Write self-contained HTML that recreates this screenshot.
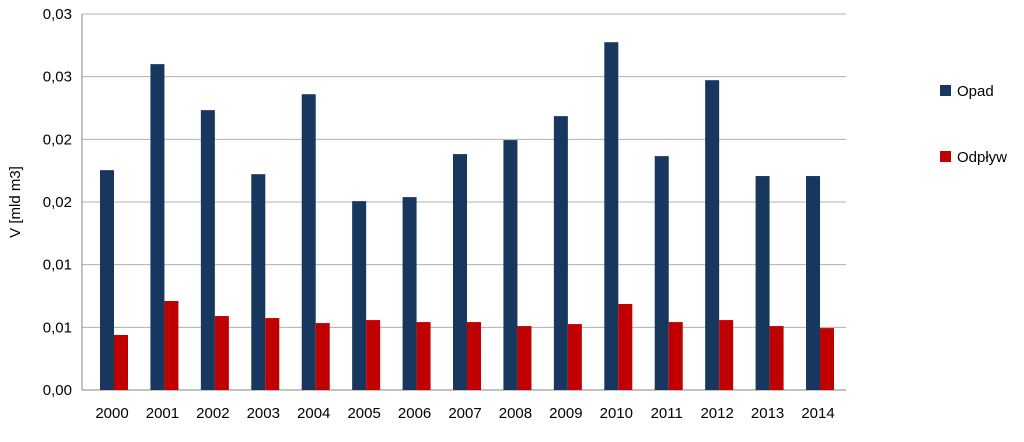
<!DOCTYPE html>
<html><head><meta charset="utf-8">
<style>
body{margin:0;background:#fff;font-family:"Liberation Sans",sans-serif;}
svg text{font-family:"Liberation Sans",sans-serif;fill:#000;}
</style></head>
<body>
<svg width="1024" height="437" viewBox="0 0 1024 437" xmlns="http://www.w3.org/2000/svg">
<g id="grid"></g>
<g id="bars"></g>
<g id="xlabels"></g>
<g id="ylabels"></g>
<text x="20" y="202" font-size="15" text-anchor="middle" transform="rotate(-90 20 202)">V [mld m3]</text>
<g>
<rect x="940" y="85" width="11" height="11" fill="#17375e"/>
<text x="957" y="96" font-size="15">Opad</text>
<rect x="940" y="151" width="11" height="11" fill="#c00000"/>
<text x="957" y="162" font-size="15">Odpływ</text>
</g>
</svg>
<script>
const categories=["2000","2001","2002","2003","2004","2005","2006","2007","2008","2009","2010","2011","2012","2013","2014"];
const opad=[0.01754,0.0260,0.02233,0.01722,0.0236,0.01507,0.01539,0.01882,0.01994,0.02185,0.02775,0.01866,0.02472,0.01707,0.01707];
const odplyw=[0.00439,0.0071,0.0059,0.00574,0.00534,0.00558,0.00542,0.00542,0.0051,0.00526,0.00686,0.00542,0.00558,0.0051,0.00494];
const yTicks=[0,0.005,0.01,0.015,0.02,0.025,0.03];
const yTickLabels=["0,00","0,01","0,01","0,02","0,02","0,03","0,03"];
const NS="http://www.w3.org/2000/svg";
const x0=82,x1=846,y0=390,yTop=14,yMax=0.03;
const y=v=>y0-(v/yMax)*(y0-yTop);
const c0=114,step=50.43;
const bw=14;
function mk(t,a,p){const e=document.createElementNS(NS,t);for(const k in a)e.setAttribute(k,a[k]);p.appendChild(e);return e;}
const grid=document.getElementById('grid'),bars=document.getElementById('bars'),xl=document.getElementById('xlabels'),yl=document.getElementById('ylabels');
yTicks.forEach((v,i)=>{
 const l=mk('line',{x1:x0,x2:x1,y1:y(v),y2:y(v),stroke:v===0?'#868686':'#b0b0b0','stroke-width':1},grid);
 
 
 const t=mk('text',{x:72,y:y(v)+5,'font-size':15,'text-anchor':'end'},yl);
 t.textContent=yTickLabels[i];
 
 
});
mk('line',{x1:x0,x2:x0,y1:yTop,y2:y0,stroke:'#868686'},grid);
categories.forEach((c,i)=>{
 const cx=c0+step*i;
 const b1=mk('rect',{x:cx-bw,y:y(opad[i]),width:bw,height:y0-y(opad[i]),fill:'#17375e'},bars);
 
 
 const b2=mk('rect',{x:cx,y:y(odplyw[i]),width:bw,height:y0-y(odplyw[i]),fill:'#c00000'},bars);
 
 
 const t=mk('text',{x:cx-2,y:418,'font-size':15,'text-anchor':'middle'},xl);
 t.textContent=c;
 
 
});
</script>
</body></html>
